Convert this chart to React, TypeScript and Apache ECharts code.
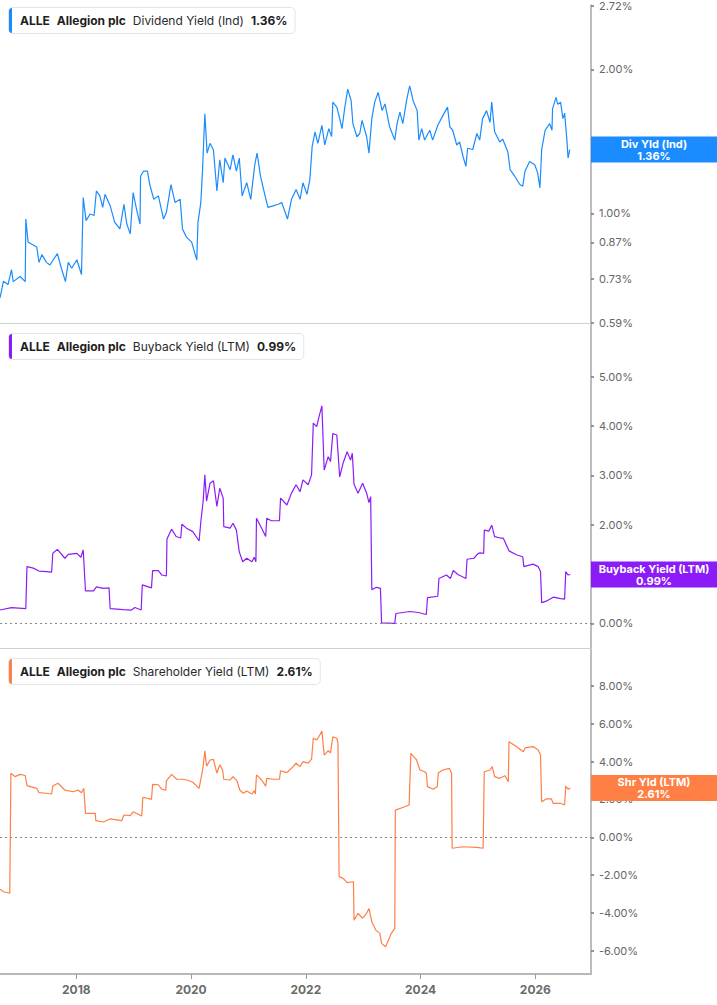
import React, { useEffect, useRef } from 'react';
import * as echarts from 'echarts';

// x range in decimal years, tick years
const xMin = 2016.67;
const xMax = 2026.97;
const yearTicks = [2018, 2020, 2022, 2024, 2026];

// right axis tick labels per panel
const divTicks = [0.59, 0.73, 0.87, 1.0, 2.0, 2.72];
const buybackTicks = [0, 1, 2, 3, 4, 5];
const shrTicks = [-6, -4, -2, 0, 2, 4, 6, 8];

// [decimal year, yield %]
const divYield = [
    [2016.67, 0.666], [2016.73, 0.721], [2016.81, 0.71], [2016.87, 0.763], [2016.9, 0.72],
    [2017.02, 0.738], [2017.11, 0.72], [2017.12, 0.973], [2017.16, 0.87], [2017.25, 0.859],
    [2017.31, 0.851], [2017.35, 0.79], [2017.4, 0.82], [2017.48, 0.79], [2017.54, 0.78],
    [2017.6, 0.8], [2017.67, 0.824], [2017.74, 0.768], [2017.81, 0.72], [2017.86, 0.79],
    [2017.92, 0.768], [2018.01, 0.8], [2018.09, 0.745], [2018.12, 1.079], [2018.17, 0.966],
    [2018.24, 0.997], [2018.31, 0.99], [2018.35, 1.114], [2018.41, 1.088], [2018.46, 1.029],
    [2018.5, 1.096], [2018.59, 1.037], [2018.67, 0.958], [2018.76, 0.928], [2018.83, 1.045],
    [2018.88, 0.95], [2018.94, 0.906], [2018.99, 1.105], [2019.05, 1.02], [2019.11, 0.95],
    [2019.12, 1.196], [2019.17, 1.225], [2019.24, 1.225], [2019.28, 1.149], [2019.35, 1.07],
    [2019.43, 1.088], [2019.52, 0.973], [2019.57, 1.005], [2019.65, 1.149], [2019.72, 1.054],
    [2019.81, 1.07], [2019.85, 0.928], [2019.92, 0.892], [2020.01, 0.871], [2020.1, 0.799],
    [2020.12, 0.958], [2020.17, 1.054], [2020.2, 1.234], [2020.24, 1.615], [2020.28, 1.336],
    [2020.33, 1.401], [2020.39, 1.357], [2020.45, 1.114], [2020.5, 1.294], [2020.56, 1.159],
    [2020.59, 1.305], [2020.68, 1.234], [2020.73, 1.325], [2020.79, 1.225], [2020.84, 1.305],
    [2020.89, 1.088], [2020.97, 1.159], [2021.04, 1.07], [2021.11, 1.264], [2021.15, 1.336],
    [2021.21, 1.196], [2021.29, 1.088], [2021.34, 1.029], [2021.43, 1.037], [2021.52, 1.045],
    [2021.58, 1.054], [2021.68, 0.973], [2021.75, 1.07], [2021.83, 1.122], [2021.9, 1.07],
    [2021.95, 1.159], [2022.02, 1.096], [2022.07, 1.177], [2022.11, 1.379], [2022.16, 1.481],
    [2022.21, 1.401], [2022.28, 1.528], [2022.33, 1.39], [2022.4, 1.504], [2022.45, 1.448],
    [2022.47, 1.708], [2022.54, 1.668], [2022.59, 1.578], [2022.63, 1.504], [2022.68, 1.668],
    [2022.73, 1.819], [2022.79, 1.72], [2022.82, 1.54], [2022.89, 1.446], [2022.94, 1.469],
    [2022.98, 1.565], [2023.06, 1.446], [2023.1, 1.336], [2023.15, 1.578], [2023.2, 1.708],
    [2023.26, 1.79], [2023.33, 1.64], [2023.38, 1.694], [2023.46, 1.517], [2023.55, 1.423],
    [2023.59, 1.54], [2023.64, 1.628], [2023.69, 1.54], [2023.76, 1.734], [2023.81, 1.848],
    [2023.87, 1.72], [2023.94, 1.64], [2023.97, 1.423], [2024.02, 1.504], [2024.07, 1.423],
    [2024.16, 1.492], [2024.21, 1.423], [2024.3, 1.528], [2024.39, 1.603], [2024.47, 1.668],
    [2024.51, 1.517], [2024.56, 1.492], [2024.63, 1.39], [2024.68, 1.41], [2024.74, 1.315],
    [2024.79, 1.254], [2024.82, 1.368], [2024.91, 1.36], [2024.98, 1.469], [2025.03, 1.423],
    [2025.08, 1.578], [2025.15, 1.64], [2025.21, 1.55], [2025.24, 1.708], [2025.29, 1.481],
    [2025.38, 1.41], [2025.43, 1.43], [2025.52, 1.346], [2025.56, 1.234], [2025.64, 1.196],
    [2025.73, 1.149], [2025.78, 1.14], [2025.82, 1.225], [2025.9, 1.284], [2025.99, 1.264],
    [2026.04, 1.215], [2026.08, 1.131], [2026.11, 1.357], [2026.17, 1.492], [2026.25, 1.54],
    [2026.29, 1.492], [2026.3, 1.654], [2026.36, 1.748], [2026.39, 1.69], [2026.44, 1.708],
    [2026.48, 1.578], [2026.51, 1.62], [2026.55, 1.423], [2026.57, 1.305], [2026.6, 1.36],
];

const buybackYield = [
    [2016.67, 0.27], [2016.87, 0.32], [2017.12, 0.3], [2017.14, 1.15], [2017.25, 1.12],
    [2017.35, 1.06], [2017.48, 1.05], [2017.57, 1.04], [2017.59, 1.42], [2017.67, 1.5],
    [2017.8, 1.32], [2017.86, 1.4], [2018.01, 1.42], [2018.08, 1.34], [2018.12, 1.49],
    [2018.16, 0.66], [2018.3, 0.66], [2018.35, 0.74], [2018.47, 0.71], [2018.57, 0.72],
    [2018.59, 0.3], [2018.82, 0.28], [2018.96, 0.27], [2019.02, 0.32], [2019.13, 0.27],
    [2019.15, 0.78], [2019.31, 0.72], [2019.33, 1.07], [2019.43, 1.07], [2019.49, 0.98],
    [2019.57, 0.96], [2019.58, 1.71], [2019.66, 1.91], [2019.74, 1.76], [2019.82, 1.73],
    [2019.84, 2.01], [2019.92, 1.93], [2020.03, 1.86], [2020.14, 1.67], [2020.17, 2.06],
    [2020.21, 2.47], [2020.24, 3.01], [2020.27, 2.48], [2020.33, 2.84], [2020.39, 2.89],
    [2020.45, 2.37], [2020.5, 2.74], [2020.56, 2.54], [2020.57, 1.96], [2020.68, 1.93],
    [2020.73, 2.03], [2020.79, 1.89], [2020.84, 1.45], [2020.9, 1.25], [2020.97, 1.32],
    [2021.06, 1.25], [2021.1, 1.34], [2021.13, 1.25], [2021.14, 2.13], [2021.23, 1.93],
    [2021.3, 1.76], [2021.32, 2.13], [2021.4, 2.08], [2021.54, 2.08], [2021.56, 2.54],
    [2021.67, 2.4], [2021.75, 2.64], [2021.83, 2.81], [2021.9, 2.67], [2021.95, 2.91],
    [2022.04, 2.81], [2022.1, 3.01], [2022.13, 4.06], [2022.19, 3.99], [2022.23, 4.19],
    [2022.28, 4.41], [2022.32, 3.11], [2022.39, 3.38], [2022.43, 3.28], [2022.47, 3.85],
    [2022.54, 3.82], [2022.59, 2.97], [2022.65, 3.25], [2022.72, 3.48], [2022.78, 3.31],
    [2022.81, 3.45], [2022.84, 2.82], [2022.91, 2.64], [2022.99, 2.84], [2023.06, 2.64],
    [2023.1, 2.45], [2023.13, 2.57], [2023.15, 0.68], [2023.23, 0.73], [2023.3, 0.71],
    [2023.32, 0.01], [2023.55, 0.0], [2023.57, 0.2], [2023.81, 0.24], [2023.96, 0.22],
    [2024.1, 0.18], [2024.12, 0.52], [2024.3, 0.55], [2024.32, 0.91], [2024.45, 0.98],
    [2024.52, 0.91], [2024.57, 1.07], [2024.65, 0.99], [2024.79, 0.91], [2024.81, 1.3],
    [2024.93, 1.32], [2024.98, 1.39], [2025.03, 1.43], [2025.1, 1.42], [2025.11, 1.89],
    [2025.19, 1.87], [2025.24, 1.99], [2025.29, 1.76], [2025.39, 1.73], [2025.44, 1.73],
    [2025.54, 1.47], [2025.67, 1.39], [2025.78, 1.35], [2025.8, 1.15], [2025.96, 1.2],
    [2026.05, 1.15], [2026.09, 1.05], [2026.11, 0.42], [2026.19, 0.45], [2026.31, 0.53],
    [2026.44, 0.5], [2026.51, 0.49], [2026.53, 1.05], [2026.57, 0.98], [2026.61, 0.99],
];

const shrYield = [
    [2016.67, -2.75], [2016.73, -2.88], [2016.84, -2.96], [2016.86, 3.39], [2016.93, 3.21],
    [2017.02, 3.33], [2017.11, 3.27], [2017.14, 2.73], [2017.31, 2.59], [2017.35, 2.36],
    [2017.48, 2.33], [2017.57, 2.29], [2017.59, 2.71], [2017.68, 2.86], [2017.8, 2.5],
    [2017.95, 2.41], [2018.03, 2.5], [2018.09, 2.36], [2018.13, 2.59], [2018.16, 1.27],
    [2018.33, 1.27], [2018.34, 0.88], [2018.47, 0.81], [2018.59, 0.97], [2018.79, 0.88],
    [2018.83, 1.18], [2018.94, 1.15], [2018.99, 1.35], [2019.14, 1.13], [2019.16, 2.12],
    [2019.31, 2.01], [2019.33, 2.8], [2019.43, 2.78], [2019.49, 2.54], [2019.56, 2.5],
    [2019.57, 2.98], [2019.66, 3.33], [2019.75, 3.07], [2019.85, 3.07], [2019.93, 3.03],
    [2020.03, 2.91], [2020.14, 2.59], [2020.17, 3.07], [2020.21, 3.74], [2020.24, 4.58],
    [2020.27, 3.76], [2020.33, 4.09], [2020.39, 4.12], [2020.45, 3.39], [2020.5, 3.83],
    [2020.55, 3.56], [2020.57, 3.07], [2020.68, 3.03], [2020.73, 3.21], [2020.8, 2.98],
    [2020.85, 2.5], [2020.91, 2.33], [2020.97, 2.45], [2021.06, 2.29], [2021.1, 2.46],
    [2021.12, 2.29], [2021.14, 3.3], [2021.23, 3.03], [2021.3, 2.71], [2021.32, 3.12],
    [2021.43, 3.07], [2021.54, 3.07], [2021.56, 3.52], [2021.67, 3.42], [2021.75, 3.65],
    [2021.83, 3.92], [2021.9, 3.74], [2021.95, 4.0], [2022.04, 3.92], [2022.1, 4.13],
    [2022.13, 5.24], [2022.19, 5.15], [2022.23, 5.33], [2022.28, 5.62], [2022.32, 4.35],
    [2022.39, 4.58], [2022.43, 4.47], [2022.47, 5.32], [2022.54, 5.24], [2022.56, 4.97],
    [2022.58, -2.08], [2022.65, -2.17], [2022.72, -2.4], [2022.83, -2.35], [2022.84, -4.38],
    [2022.91, -4.02], [2022.99, -4.28], [2023.06, -4.02], [2023.1, -3.76], [2023.15, -4.47],
    [2023.22, -4.91], [2023.29, -5.08], [2023.32, -5.61], [2023.39, -5.79], [2023.44, -5.43],
    [2023.49, -5.08], [2023.55, -4.82], [2023.56, 1.44], [2023.7, 1.59], [2023.8, 1.71],
    [2023.83, 4.44], [2023.93, 4.09], [2023.99, 3.56], [2024.07, 3.47], [2024.1, 3.39],
    [2024.12, 2.68], [2024.22, 2.54], [2024.29, 2.68], [2024.31, 3.42], [2024.39, 3.56],
    [2024.5, 3.65], [2024.54, 3.39], [2024.55, -0.58], [2024.74, -0.5], [2024.98, -0.53],
    [2025.09, -0.58], [2025.11, 3.47], [2025.21, 3.56], [2025.25, 3.74], [2025.29, 3.21],
    [2025.38, 3.12], [2025.47, 3.26], [2025.53, 2.94], [2025.54, 5.06], [2025.67, 4.8],
    [2025.79, 4.53], [2025.82, 4.73], [2025.96, 4.8], [2026.05, 4.62], [2026.09, 4.35],
    [2026.11, 1.88], [2026.19, 2.03], [2026.28, 2.03], [2026.31, 1.8], [2026.44, 1.8],
    [2026.51, 1.71], [2026.53, 2.71], [2026.57, 2.55], [2026.61, 2.61],
];

const ticker = 'ALLE';
const company = 'Allegion plc';
const metricNames = ['Dividend Yield (Ind)', 'Buyback Yield (LTM)', 'Shareholder Yield (LTM)'];
const shortNames = ['Div Yld (Ind)', 'Buyback Yield (LTM)', 'Shr Yld (LTM)'];
const lastValues = [1.36, 0.99, 2.61];
const colors = ['#1a8cff', '#8c1cf7', '#ff7f45'];

const FONT = 'Inter, "Noto Sans", sans-serif';

const grids = [
    { left: 0, right: 126, top: 0, height: 323 },
    { left: 0, right: 126, top: 324, height: 324 },
    { left: 0, right: 126, top: 649, height: 325 },
];
const legendTops = [8, 334, 659];

const pct = (v: number) => v.toFixed(2) + '%';
const lg = (v: number) => Math.log10(v);

export default function App() {
    const chartRef = useRef<HTMLDivElement>(null);

    useEffect(() => {
        const chart = echarts.init(chartRef.current, null, { renderer: 'svg' });

        const xAxes = grids.map((_, i) => {
            const bottom = i === 2;
            return {
                type: 'value',
                gridIndex: i,
                min: xMin,
                max: xMax,
                splitLine: { show: false },
                axisLine: {
                    show: true,
                    onZero: false,
                    lineStyle: { color: bottom ? '#b8b8b8' : '#cfcfcf', width: bottom ? 2 : 1 },
                },
                axisTick: {
                    show: bottom,
                    length: 5,
                    customValues: yearTicks,
                    lineStyle: { color: '#9a9a9a' },
                },
                axisLabel: {
                    show: bottom,
                    customValues: yearTicks,
                    formatter: (v: number) => String(Math.round(v)),
                    color: '#6b6b6b',
                    fontWeight: 'bold',
                    fontSize: 12,
                    fontFamily: FONT,
                    margin: 9,
                },
            };
        });

        const yBase = {
            type: 'value',
            position: 'right',
            splitLine: { show: false },
            axisLine: { show: true, lineStyle: { color: '#bdbdbd', width: 2 } },
            axisTick: { show: true, length: 3, lineStyle: { color: '#777', width: 1.5 } },
        };
        const labelBase = { color: '#666', fontSize: 11, fontFamily: FONT, margin: 8 };

        const yAxes = [
            {
                ...yBase,
                gridIndex: 0,
                min: lg(0.59),
                max: lg(2.72),
                axisTick: { ...yBase.axisTick, customValues: divTicks.map(lg) },
                axisLabel: {
                    ...labelBase,
                    customValues: divTicks.map(lg),
                    formatter: (v: number) => pct(Math.pow(10, v)),
                },
            },
            {
                ...yBase,
                gridIndex: 1,
                min: -0.5,
                max: 6.07,
                axisTick: { ...yBase.axisTick, customValues: buybackTicks },
                axisLabel: { ...labelBase, customValues: buybackTicks, formatter: pct },
            },
            {
                ...yBase,
                gridIndex: 2,
                min: -7.23,
                max: 9.96,
                axisTick: { ...yBase.axisTick, customValues: shrTicks },
                axisLabel: { ...labelBase, customValues: shrTicks, formatter: pct },
            },
        ];

        const zeroLine = {
            silent: true,
            symbol: ['none', 'none'],
            label: { show: false },
            lineStyle: { type: [2, 3], color: '#8a8a8a', width: 1.2 },
            data: [{ yAxis: 0 }],
        };

        const seriesData = [
            divYield.map(([t, v]) => [t, lg(v)]),
            buybackYield,
            shrYield,
        ];

        chart.setOption({
            animation: false,
            backgroundColor: '#fff',
            grid: grids,
            xAxis: xAxes,
            yAxis: yAxes,
            series: seriesData.map((data, i) => ({
                name: metricNames[i],
                type: 'line',
                xAxisIndex: i,
                yAxisIndex: i,
                showSymbol: false,
                symbol: 'none',
                lineStyle: { color: colors[i], width: 1.2 },
                data,
                markLine: i > 0 ? zeroLine : undefined,
            })),
        });

        // legend chips at top-left of each panel
        const legendGraphics: any[] = [];
        metricNames.forEach((name, i) => {
            const top = legendTops[i];
            legendGraphics.push({
                type: 'text',
                x: 9,
                y: top,
                z: 10,
                style: {
                    text: `{b|${ticker}}{s| }{b|${company}}{s| }{n|${name}}{s| }{b|${pct(lastValues[i])}}`,
                    rich: {
                        b: { fontWeight: 'bold', fontSize: 12, fill: '#1e1e1e', fontFamily: FONT, lineHeight: 13 },
                        n: { fontWeight: 'normal', fontSize: 12, fill: '#2a2a2a', fontFamily: FONT, lineHeight: 13 },
                        s: { width: 7, fontSize: 12, lineHeight: 13 },
                    },
                    backgroundColor: '#fff',
                    borderColor: '#e4e4e4',
                    borderWidth: 1,
                    borderRadius: 4,
                    padding: [6, 7, 6, 11],
                },
            });
            legendGraphics.push({
                type: 'rect',
                z: 11,
                shape: { x: 9, y: top, width: 3, height: 25, r: [3, 0, 0, 3] },
                style: { fill: colors[i] },
            });
        });

        // last value boxes on the right axis
        const boxValues = [lg(lastValues[0]), lastValues[1], lastValues[2]];
        const boxGraphics: any[] = [];
        boxValues.forEach((v, i) => {
            const py = chart.convertToPixel({ yAxisIndex: i }, v) as number;
            boxGraphics.push({
                type: 'rect',
                z: 20,
                shape: { x: 591, y: py - 13, width: 126, height: 26 },
                style: { fill: colors[i] },
            });
            boxGraphics.push({
                type: 'text',
                z: 21,
                x: 654,
                y: py,
                style: {
                    text: `${shortNames[i]}\n${pct(lastValues[i])}`,
                    fill: '#fff',
                    fontSize: 11,
                    fontWeight: 'bold',
                    fontFamily: FONT,
                    lineHeight: 12,
                    align: 'center',
                    verticalAlign: 'middle',
                },
            });
        });

        chart.setOption({ graphic: [...legendGraphics, ...boxGraphics] });

        return () => {
            chart.dispose();
        };
    }, []);

    return (
        <div
            ref={chartRef}
            style={{ position: 'absolute', left: 0, top: 0, width: '717px', height: '1005px' }}
        />
    );
}
